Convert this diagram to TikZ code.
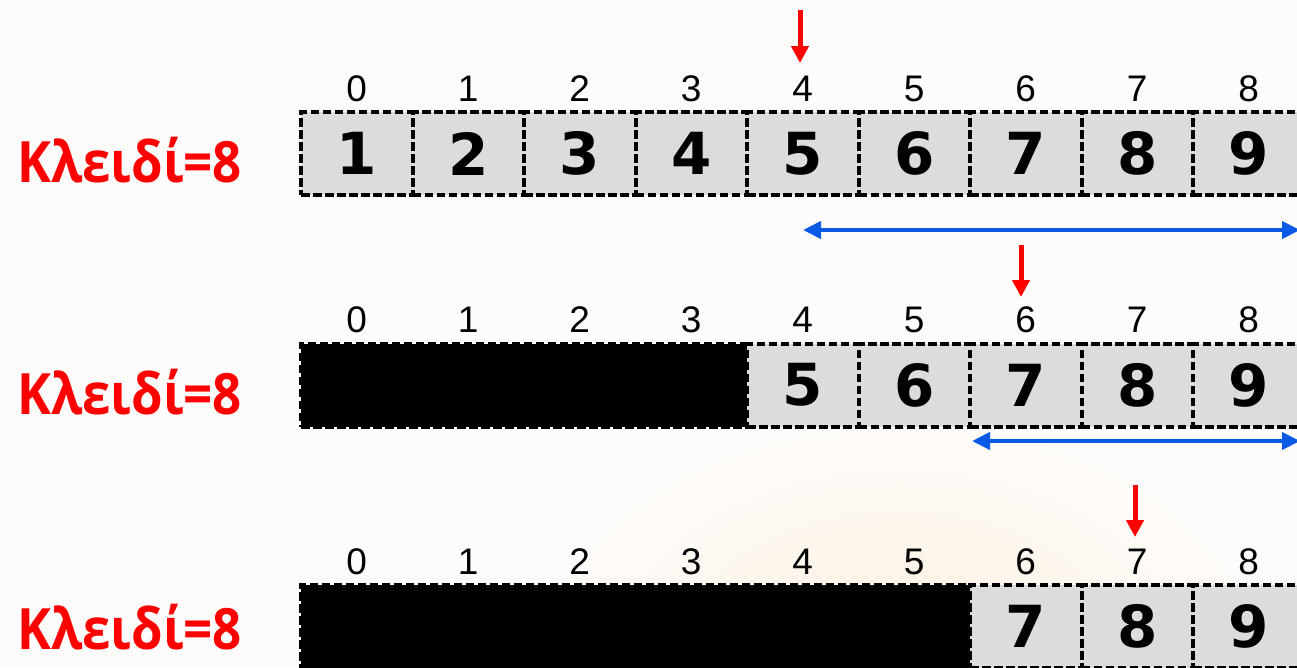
\documentclass[tikz,border=0pt]{standalone}
\usepackage{fontspec}
\setmainfont{Liberation Sans}
\newfontfamily\lblfont{Open Sans}
\newfontfamily\cellfont{DejaVu Sans}
\usetikzlibrary{arrows.meta}
\definecolor{bg}{HTML}{FEFCFA}
\definecolor{glow}{HTML}{FCF0E0}
\definecolor{cellgray}{HTML}{DCDCDC}
\definecolor{arrowblue}{HTML}{0A5AE6}
\definecolor{keyred}{HTML}{FF0000}
\tikzset{
  cell/.style={draw=black, fill=cellgray, line width=4pt, dash pattern=on 8.5pt off 3.5pt,
    minimum width=111.5pt, minimum height=83pt, inner sep=0pt, outer sep=0pt,
    font=\cellfont\bfseries\fontsize{58}{60}\selectfont},
  blackblk/.style={draw=black, fill=black, line width=4pt, dash pattern=on 8.5pt off 3.5pt,
    minimum height=83pt, inner sep=0pt, outer sep=0pt},
  idx/.style={font=\fontsize{37}{40}\selectfont, inner sep=0pt},
  keylbl/.style={font=\lblfont\bfseries\fontsize{57}{60}\selectfont, text=keyred, inner sep=0pt, anchor=base west},
  redarrow/.style={draw=keyred, line width=5pt, -{Triangle[width=17pt,length=17pt]}},
  bluearrow/.style={draw=arrowblue, line width=4pt, {Triangle[width=17pt,length=18pt]}-{Triangle[width=17pt,length=18pt]}}
}
\newcommand{\keytext}{\scalebox{0.895}[1]{Κλειδί=8}}
\begin{document}
\begin{tikzpicture}[x=1pt,y=-1pt]
\useasboundingbox (0,0) rectangle (1297,667);
\fill[bg] (0,0) rectangle (1297,667);
\begin{scope}
\clip (0,0) rectangle (1297,667);
\shade[inner color=glow, outer color=bg] (900,660) ellipse (360 and 240);
\end{scope}

% keys
\node[keylbl] (k1) at (17,182) {\keytext};
\node[keylbl] (k2) at (17,414) {\keytext};
\node[keylbl] (k3) at (17,649) {\keytext};

% row 1
\foreach \i in {0,...,8}{
  \pgfmathtruncatemacro\v{\i+1}
  \node[idx] (ia\i) at ({356.75+111.5*\i},89) {\i};
  \node[cell] (ca\i) at ({356.75+111.5*\i},153.5) {\v};
}
% row 2
\node[blackblk, minimum width=446pt] (blk2) at (524,385) {};
\foreach \i in {0,...,8}{
  \node[idx] (ib\i) at ({356.75+111.5*\i},320) {\i};
}
\foreach \i in {4,...,8}{
  \pgfmathtruncatemacro\v{\i+1}
  \node[cell] (cb\i) at ({356.75+111.5*\i},385) {\v};
}
% row 3
\node[blackblk, minimum width=669pt] (blk3) at (635.5,626.5) {};
\foreach \i in {0,...,8}{
  \node[idx] (ic\i) at ({356.75+111.5*\i},562) {\i};
}
\foreach \i in {6,...,8}{
  \pgfmathtruncatemacro\v{\i+1}
  \node[cell] (cc\i) at ({356.75+111.5*\i},626.5) {\v};
}

% red arrows
\coordinate (ra1s) at (800,10);  \coordinate (ra1e) at (800,63);
\coordinate (ra2s) at (1021,245); \coordinate (ra2e) at (1021,297);
\coordinate (ra3s) at (1135,485); \coordinate (ra3e) at (1135,537);
\draw[redarrow] (ra1s) -- (ra1e);
\draw[redarrow] (ra2s) -- (ra2e);
\draw[redarrow] (ra3s) -- (ra3e);

% blue arrows
\coordinate (ba1s) at (803,230); \coordinate (ba1e) at (1300,230);
\coordinate (ba2s) at (972,441); \coordinate (ba2e) at (1300,441);
\draw[bluearrow] (ba1s) -- (ba1e);
\draw[bluearrow] (ba2s) -- (ba2e);
\end{tikzpicture}
\end{document}
